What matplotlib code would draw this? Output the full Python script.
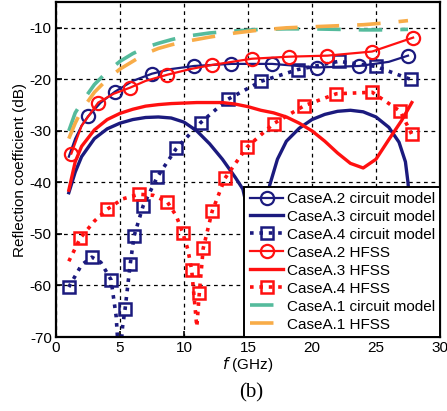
import matplotlib.pyplot as plt

plt.rcParams['font.family'] = ['Liberation Sans', 'DejaVu Sans']
plt.rcParams['axes.unicode_minus'] = False

NAVY = '#1b1a7e'
RED = '#ff1010'
TEAL = '#55bb9c'
ORANGE = '#f8ac48'

# CaseA.1 (dashed, no markers)
a1_circ_f = [1, 1.5, 2, 3, 4, 5, 6, 7, 8, 9, 10, 12, 14, 16, 18, 20, 22, 24, 26, 27.5]
a1_circ_db = [-30, -26.5, -24.5, -21, -18.5, -16.5, -15, -13.8, -13.0, -12.3, -11.7,
              -11.0, -10.6, -10.3, -10.2, -10.2, -10.3, -10.4, -10.4, -10.3]
a1_hfss_f = [1, 1.5, 2, 3, 4, 5, 6, 7, 8, 9, 10, 12, 14, 16, 18, 20, 22, 24, 26, 27.5]
a1_hfss_db = [-31.5, -28.5, -26, -22.5, -20, -18, -16.5, -15, -14, -13.3, -12.7,
              -11.8, -11, -10.4, -10.0, -9.8, -9.6, -9.4, -9.0, -8.6]

# CaseA.2 (circles)
a2_circ_f = [1, 1.5, 2, 2.5, 3.5, 4.6, 6, 7.5, 9, 10.8, 13.7, 16.9, 20.4, 23.7, 26, 27.5]
a2_circ_db = [-35, -31.5, -29, -27.2, -24.5, -22.4, -20.3, -18.9, -18, -17.4, -17.0,
              -17.0, -17.7, -17.4, -16.6, -15.4]
a2_circ_mk = [3, 5, 7, 9, 10, 11, 12, 13, 15]
a2_hfss_f = [1.2, 2, 3.3, 4.5, 5.8, 7, 8.7, 10.5, 12.2, 15.3, 18.2, 21.2, 24.7, 27.9]
a2_hfss_db = [-34.4, -29, -24.5, -22.8, -21.6, -20.3, -19.1, -18, -17.2, -16.0,
              -15.6, -15.4, -14.6, -11.9]
a2_hfss_mk = [0, 2, 4, 6, 8, 9, 10, 11, 12, 13]

# CaseA.3 (solid)
a3_circ_f = [1, 1.5, 2, 3, 4, 5, 6, 7, 8, 9, 10, 11, 12, 13, 14, 14.6, 15.2, 15.6,
             16.0, 16.7, 17.3, 18, 19, 20, 21, 22, 23, 24, 25, 26, 26.8, 27.3, 27.5,
             27.8, 28]
a3_circ_db = [-42, -38, -35, -31.5, -29.6, -28.5, -27.8, -27.4, -27.3, -27.5, -28.3,
              -30, -32.5, -35.5, -39, -41.3, -48, -75, -50, -40.5, -35.5, -32, -29.5,
              -27.8, -26.8, -26.2, -26.0, -26.3, -27.3, -29.3, -32.2, -36, -40, -50, -75]
a3_hfss_f = [1, 1.5, 2, 3, 4, 5, 6, 7, 8, 9, 10, 11, 12, 13, 14, 15, 16, 17, 18, 19,
             20, 21, 22, 23, 24, 25, 26, 27, 27.8]
a3_hfss_db = [-41.5, -36, -33, -29.8, -27.8, -26.6, -25.8, -25.2, -24.9, -24.7, -24.6,
              -24.5, -24.5, -24.5, -24.8, -25.3, -26, -26.5, -27.3, -28.5, -30, -32,
              -34.3, -36.3, -37.2, -35.5, -31.7, -28, -24.5]

# CaseA.4 (dotted squares)
a4_circ_f = [1, 2, 2.8, 3.5, 4.3, 4.7, 4.95, 5.2, 5.4, 5.8, 6.1, 6.8, 7.9, 9.4, 11.3,
             13.4, 16, 18.9, 22.1, 25, 27.7]
a4_circ_db = [-60.3, -56, -54.5, -55.5, -58.9, -66, -76, -68, -64.5, -55.8, -50.4,
              -44.6, -39, -33.4, -28.4, -23.9, -20.4, -18.1, -16.5, -17.5, -20]
a4_circ_mk = [0, 2, 4, 8, 9, 10, 11, 12, 13, 14, 15, 16, 17, 18, 19, 20]
a4_hfss_f = [1, 1.9, 3, 4.0, 5.2, 6.5, 7.6, 8.7, 9.4, 9.9, 10.3, 10.6, 11.0, 11.2,
             11.5, 12.2, 13.2, 14.9, 17, 19.4, 21.9, 24.7, 26.9, 27.8]
a4_hfss_db = [-55.3, -50.8, -47.5, -45.2, -43.2, -42.3, -42.5, -43.8, -46.5, -49.8,
              -53, -57, -68, -61.4, -52.8, -45.6, -39.2, -33.2, -28.6, -25.1, -22.8,
              -22.5, -26.2, -30.7]
a4_hfss_mk = [1, 3, 5, 7, 9, 11, 13, 14, 15, 16, 17, 18, 19, 20, 21, 22, 23]

fig = plt.figure(figsize=(4.47, 4.11), dpi=100)
ax = fig.add_axes([0.1253, 0.18, 0.859, 0.815])

dot = (0, (1, 1.6))
ax.plot(a2_circ_f, a2_circ_db, color=NAVY, lw=1.6, marker='o', ms=9.5, mfc='none',
        mew=1.6, markevery=a2_circ_mk, label='CaseA.2 circuit model')
ax.plot(a3_circ_f, a3_circ_db, color=NAVY, lw=2.4, label='CaseA.3 circuit model')
ax.plot(a4_circ_f, a4_circ_db, color=NAVY, lw=2.6, ls=dot, marker='s', ms=9,
        mfc='none', mew=1.8, markevery=a4_circ_mk, label='CaseA.4 circuit model')
ax.plot(a2_hfss_f, a2_hfss_db, color=RED, lw=1.6, marker='o', ms=9.5, mfc='none',
        mew=1.6, markevery=a2_hfss_mk, label='CaseA.2 HFSS')
ax.plot(a3_hfss_f, a3_hfss_db, color=RED, lw=2.4, label='CaseA.3 HFSS')
ax.plot(a4_hfss_f, a4_hfss_db, color=RED, lw=2.6, ls=dot, marker='s', ms=9,
        mfc='none', mew=1.8, markevery=a4_hfss_mk, label='CaseA.4 HFSS')
ax.plot(a1_circ_f, a1_circ_db, color=TEAL, lw=2.6, ls=(0, (6.5, 5)),
        label='CaseA.1 circuit model')
ax.plot(a1_hfss_f, a1_hfss_db, color=ORANGE, lw=2.6, ls=(0, (6.5, 5)),
        label='CaseA.1 HFSS')

ax.set_xlim(0, 30)
ax.set_ylim(-70, -5)
ax.set_xticks(range(0, 31, 5))
ax.set_yticks(range(-70, -9, 10))
ax.tick_params(direction='in', labelsize=11, length=4, width=1.2, pad=3)
ax.grid(True, color='black', ls=(0, (3, 3)), lw=0.9)
for s in ax.spines.values():
    s.set_linewidth(1.6)

ax.set_xlabel(r'$f$ (GHz)', fontsize=11, labelpad=0)
ax.set_ylabel('Reflection coefficient (dB)', fontsize=11, labelpad=2)

leg = ax.legend(loc='lower right', fontsize=11, borderaxespad=0, fancybox=False,
                framealpha=1, edgecolor='black', labelspacing=0.26,
                handlelength=2.2, handletextpad=0.2, borderpad=0.35)
leg.get_frame().set_linewidth(1.4)

fig.text(0.563, 0.045, '(b)', fontsize=15, family='Liberation Serif',
         ha='center', va='center')

fig.savefig('out.png', dpi=100)
